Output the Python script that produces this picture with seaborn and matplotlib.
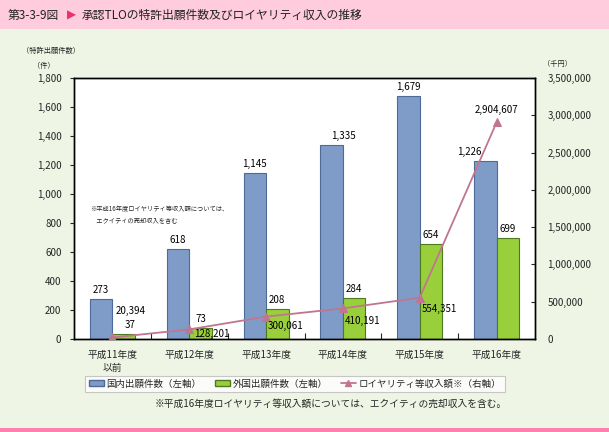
import numpy as np
import pandas as pd
import matplotlib
matplotlib.use("Agg")
import matplotlib.pyplot as plt
from matplotlib.ticker import FuncFormatter, FixedLocator
from matplotlib.patches import Patch, Rectangle
from matplotlib.lines import Line2D
import seaborn as sns

# ---- data ----
categories = ["平成11年度\n以前", "平成12年度", "平成13年度", "平成14年度", "平成15年度", "平成16年度"]
domestic = [273, 618, 1145, 1335, 1679, 1226]
foreign = [37, 73, 208, 284, 654, 699]
royalty = [20394, 128201, 300061, 410191, 554351, 2904607]
series_names = ["国内出願件数（左軸）", "外国出願件数（左軸）", "ロイヤリティ等収入額※（右軸）"]
left_ticks = [0, 200, 400, 600, 800, 1000, 1200, 1400, 1600, 1800]
right_ticks = [0, 500000, 1000000, 1500000, 2000000, 2500000, 3000000, 3500000]

sns.set_style("white")
plt.rcParams['font.family'] = ['Noto Sans CJK JP', 'DejaVu Sans']

BLUE = "#7F9CC9"
BLUE_E = "#4D6A99"
GREEN = "#99CF3A"
GREEN_E = "#4E7A1F"
LINE = "#C07590"
BG = "#EEF5E4"

fig = plt.figure(figsize=(6.09, 4.32), dpi=100)
fig.patch.set_facecolor(BG)

# title band
fig.add_artist(Rectangle((0, 1 - 29 / 432), 1, 29 / 432, transform=fig.transFigure,
                         facecolor="#FFCCDD", edgecolor="none", zorder=0))
fig.add_artist(Rectangle((0, 0), 1, 4 / 432, transform=fig.transFigure,
                         facecolor="#FF7FAF", edgecolor="none", zorder=0))
fig.text(8 / 609, 1 - 15 / 432, "第3-3-9図", fontsize=8.5, va="center", ha="left", color="#222222")
fig.text(67 / 609, 1 - 15 / 432, "▶", fontsize=8.5, va="center", ha="left", color="#E8336D",
         family=['DejaVu Sans'])
fig.text(82 / 609, 1 - 15 / 432, "承認TLOの特許出願件数及びロイヤリティ収入の推移",
         fontsize=8.5, va="center", ha="left", color="#222222")

ax = fig.add_axes([74 / 609, 1 - 339 / 432, 461 / 609, 261 / 432])
ax.set_facecolor("white")

df = pd.DataFrame({
    "cat": categories * 2,
    "series": [series_names[0]] * len(categories) + [series_names[1]] * len(categories),
    "value": domestic + foreign,
})
sns.barplot(data=df, x="cat", y="value", hue="series", palette=[BLUE, GREEN],
            width=0.585, ax=ax, legend=False, saturation=1, zorder=2)
edges = [BLUE_E, GREEN_E]
for cont, ec in zip(ax.containers, edges):
    for b in cont:
        b.set_edgecolor(ec)
        b.set_linewidth(0.8)

ax.set_xlim(-0.5, len(categories) - 0.5)
ax.set_ylim(0, 1800)
ax.yaxis.set_major_locator(FixedLocator(left_ticks))
ax.yaxis.set_major_formatter(FuncFormatter(lambda v, p: f"{int(v):,}"))
ax.set_xlabel("")
ax.set_ylabel("")
ax.tick_params(axis="x", length=0, labelsize=7, pad=8)
ax.tick_params(axis="y", length=3, width=0.8, direction="out", labelsize=7, pad=6, left=True)
ax.set_xticks(range(len(categories)))
ax.set_xticklabels(categories, linespacing=1.3)
ax.xaxis.set_minor_locator(FixedLocator(np.arange(0.5, len(categories) - 1, 1.0)))
ax.tick_params(axis="x", which="minor", length=4, width=0.8, direction="in", bottom=True)
for s in ax.spines.values():
    s.set_color("black")
    s.set_linewidth(1.0)

# bar labels
dom_dx = [0, 0, 0, 12, 0, -16]
for_dx = [6, 0, 0, 0, 0, 0]
for cont, vals, dxs in zip(ax.containers, [domestic, foreign], [dom_dx, for_dx]):
    for b, v, dx in zip(cont, vals, dxs):
        ax.annotate(f"{v:,}", (b.get_x() + b.get_width() / 2, b.get_height()),
                    xytext=(dx, 9), textcoords="offset pixels", ha="center", va="center",
                    fontsize=7, color="black", zorder=5)

# line on right axis
ax2 = ax.twinx()
sns.lineplot(x=np.arange(len(categories)), y=royalty, ax=ax2, color=LINE, linewidth=1.3,
             marker="^", markersize=6, markeredgecolor=LINE, zorder=4)
ax2.set_ylim(0, 3500000)
ax2.yaxis.set_major_locator(FixedLocator(right_ticks))
ax2.yaxis.set_major_formatter(FuncFormatter(lambda v, p: f"{int(v):,}"))
ax2.tick_params(axis="y", length=3, width=0.8, direction="in", labelsize=7, pad=9, right=True)
for lab in ax2.get_yticklabels():
    lab.set_ha("left")
ax2.set_ylabel("")
for s in ax2.spines.values():
    s.set_color("black")
    s.set_linewidth(1.0)

roy_off = [(18, 26), (23, -5), (19, -9), (20, -13), (20, -11), (0, 12)]
for i, (v, (dx, dy)) in enumerate(zip(royalty, roy_off)):
    ax2.annotate(f"{v:,}", (i, v), xytext=(dx, dy), textcoords="offset pixels",
                 ha="center", va="center", fontsize=7, color="black", zorder=6)

# in-plot note
ax.text(90 / 609, 1 - 215 / 432,
        "※平成16年度ロイヤリティ等収入額については、\n　エクイティの売却収入を含む",
        transform=fig.transFigure, fontsize=4.5, ha="left", va="center", linespacing=1.5)

# axis unit labels
fig.text(22 / 609, 1 - 51 / 432, "（特許出願件数）", fontsize=5.2, ha="left", va="center")
fig.text(33 / 609, 1 - 66 / 432, "（件）", fontsize=5.2, ha="left", va="center")
fig.text(543 / 609, 1 - 64 / 432, "（千円）", fontsize=5.2, ha="left", va="center")

# legend
handles = [
    Patch(facecolor=BLUE, edgecolor=BLUE_E, label=series_names[0]),
    Patch(facecolor=GREEN, edgecolor=GREEN_E, label=series_names[1]),
    Line2D([0], [0], color=LINE, marker="^", markersize=5, linewidth=1.3, label=series_names[2]),
]
leg = fig.legend(handles=handles, loc="center", bbox_to_anchor=(295 / 609, 1 - 384 / 432),
                 ncol=3, fontsize=6.8, frameon=True, fancybox=False, handlelength=1.6,
                 handleheight=0.6, columnspacing=1.4, handletextpad=0.3,
                 borderpad=0.35)
leg.get_frame().set_edgecolor("#BBBBBB")
leg.get_frame().set_facecolor("white")
leg.get_frame().set_linewidth(0.8)

fig.text(507 / 609, 1 - 404 / 432, "※平成16年度ロイヤリティ等収入額については、エクイティの売却収入を含む。",
         fontsize=7, ha="right", va="center")

fig.savefig("out.png", dpi=100, facecolor=fig.get_facecolor())
